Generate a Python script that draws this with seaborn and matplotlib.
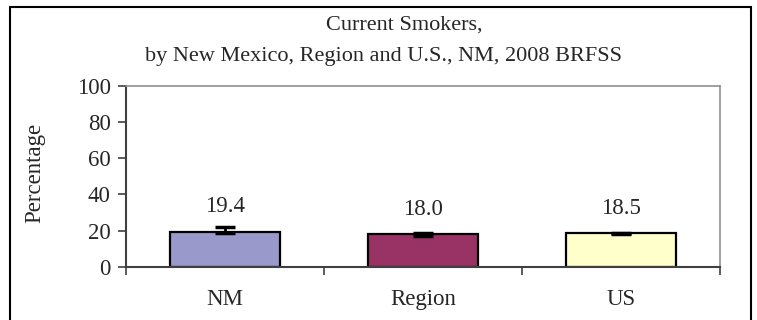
import numpy as np
import pandas as pd
import matplotlib
matplotlib.use("Agg")
import matplotlib.pyplot as plt
import seaborn as sns
from matplotlib.patches import Rectangle
from matplotlib.ticker import FixedLocator

# data
places = ["NM", "Region", "US"]
pct = [19.4, 18.0, 18.5]
ci_low = [18.7, 17.2, 18.2]
ci_high = [21.8, 18.8, 18.8]
bar_colors = ["#9999CC", "#993366", "#FFFFCC"]

df = pd.DataFrame({"Place": places, "Percentage": pct})

sns.set_style("white")
plt.rcParams["font.family"] = ["Liberation Serif", "DejaVu Serif"]
fs = 16.5

fig = plt.figure(figsize=(7.57, 3.2), dpi=100)
ax = fig.add_axes([126 / 757, 1 - 266.7 / 320, 594 / 757, 180.7 / 320])

sns.barplot(
    data=df,
    x="Place",
    y="Percentage",
    hue="Place",
    palette=bar_colors,
    saturation=1,
    width=0.555,
    edgecolor="black",
    linewidth=1.6,
    errorbar=None,
    legend=False,
    ax=ax,
)

# confidence intervals
yerr = np.array([
    np.array(pct) - np.array(ci_low),
    np.array(ci_high) - np.array(pct),
])
ax.errorbar(
    x=np.arange(len(places)),
    y=pct,
    yerr=yerr,
    fmt="none",
    ecolor="black",
    elinewidth=2,
    capsize=7,
    capthick=2.5,
)

# value labels
for i, v in enumerate(pct):
    ax.text(i, v + 8, f"{v:.1f}", ha="center", va="bottom", fontsize=fs)

ax.set_ylim(0, 100)
ax.set_xlim(-0.5, 2.5)
ax.set_yticks([0, 20, 40, 60, 80, 100])
ax.set_xlabel("")
ax.set_ylabel("Percentage", fontsize=fs)
ax.yaxis.set_label_coords(-0.136, 0.52)

ax.tick_params(axis="y", direction="out", length=6, width=1.2,
               color="#404040", pad=5, left=True, labelsize=fs)
ax.tick_params(axis="x", which="major", length=0, pad=16, labelsize=fs)
ax.xaxis.set_minor_locator(FixedLocator([-0.5, 0.5, 1.5, 2.5]))
ax.tick_params(axis="x", which="minor", direction="out", length=6,
               width=1.2, color="#404040", bottom=True)

for side in ["left", "bottom"]:
    ax.spines[side].set_color("#404040")
    ax.spines[side].set_linewidth(1.5)
for side in ["top", "right"]:
    ax.spines[side].set_color("#909090")
    ax.spines[side].set_linewidth(1.2)

fig.text(404 / 757, 1 - 25 / 320, "Current Smokers,", ha="center",
         va="center", fontsize=16)
fig.text(383 / 757, 1 - 57 / 320,
         "by New Mexico, Region and U.S., NM, 2008 BRFSS",
         ha="center", va="center", fontsize=16)

# outer chart border
fig.patches.append(Rectangle(
    (10 / 757, -0.02), 741 / 757, 1.02 - 7 / 320,
    transform=fig.transFigure, fill=False, edgecolor="black",
    linewidth=1.5,
))

fig.savefig("out.png", dpi=100)
